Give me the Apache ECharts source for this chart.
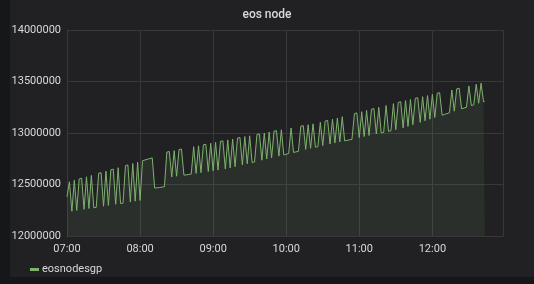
<!DOCTYPE html>
<html>
<head>
<meta charset="utf-8">
<script src="https://cdn.jsdelivr.net/npm/echarts@6/dist/echarts.min.js"></script>
<style>
  html, body { margin: 0; padding: 0; background: #161719; }
  #panel { position: absolute; left: 10px; top: 0; width: 524px; height: 277px; background: #212124; }
  #chart { position: absolute; left: 0; top: 0; width: 534px; height: 284px; }
</style>
</head>
<body>
<div id="panel"></div>
<div id="chart"></div>
<script>
const title = 'eos node';
const seriesName = 'eosnodesgp';
const startTime = [2018, 5, 20, 7, 0];   // 07:00
const stepMinutes = 1;
const axisStart = [2018, 5, 20, 7, 0];
const axisEnd = [2018, 5, 20, 12, 58];
const yTicks = [12000000, 12500000, 13000000, 13500000, 14000000];
const xTickLabels = ['07:00', '08:00', '09:00', '10:00', '11:00', '12:00'];
const values = [
  12380000, 12380000, 12527000, 12527000, 12240000, 12240000, 12541000, 12541000, 12248000, 12248000,
  12554000, 12554000, 12561000, 12561000, 12259000, 12259000, 12575000, 12575000, 12267000, 12267000,
  12588000, 12588000, 12274000, 12274000, 12278000, 12278000, 12609000, 12609000, 12615000, 12615000,
  12289000, 12289000, 12629000, 12629000, 12297000, 12297000, 12643000, 12643000, 12649000, 12649000,
  12308000, 12308000, 12663000, 12663000, 12315000, 12315000, 12319000, 12319000, 12683000, 12683000,
  12690000, 12690000, 12330000, 12330000, 12704000, 12704000, 12338000, 12338000, 12717000, 12717000,
  12345000, 12345000, 12731000, 12731000, 12738000, 12738000, 12745000, 12745000, 12751000, 12751000,
  12758000, 12758000, 12465000, 12465000, 12468000, 12468000, 12471000, 12471000, 12475000, 12475000,
  12478000, 12478000, 12815000, 12815000, 12820000, 12820000, 12573000, 12573000, 12829000, 12829000,
  12580000, 12580000, 12839000, 12839000, 12844000, 12844000, 12591000, 12591000, 12594000, 12594000,
  12598000, 12598000, 12601000, 12601000, 12867000, 12867000, 12608000, 12608000, 12876000, 12876000,
  12615000, 12615000, 12886000, 12886000, 12891000, 12891000, 12626000, 12626000, 12900000, 12900000,
  12633000, 12633000, 12909000, 12909000, 12640000, 12640000, 12919000, 12919000, 12923000, 12923000,
  12650000, 12650000, 12933000, 12933000, 12661000, 12661000, 12942000, 12942000, 12673000, 12673000,
  12951000, 12951000, 12956000, 12956000, 12690000, 12690000, 12965000, 12965000, 12702000, 12702000,
  12973000, 12973000, 12713000, 12713000, 12719000, 12719000, 12987000, 12987000, 12991000, 12991000,
  12736000, 12736000, 13000000, 13000000, 12748000, 12748000, 13009000, 13009000, 12759000, 12759000,
  13018000, 13018000, 13022000, 13022000, 12776000, 12776000, 13031000, 13031000, 12788000, 12788000,
  12794000, 12794000, 12799000, 12799000, 13049000, 13049000, 12811000, 12811000, 12817000, 12817000,
  12822000, 12822000, 13066000, 13066000, 13071000, 13071000, 12840000, 12840000, 13080000, 13080000,
  12851000, 12851000, 13089000, 13089000, 12863000, 12863000, 12867000, 12867000, 13104000, 13104000,
  12878000, 12878000, 13116000, 13116000, 13122000, 13122000, 12893000, 12893000, 13134000, 13134000,
  12903000, 12903000, 13146000, 13146000, 12914000, 12914000, 13158000, 13158000, 12924000, 12924000,
  12929000, 12929000, 12934000, 12934000, 12939000, 12939000, 13188000, 13188000, 13195000, 13195000,
  12955000, 12955000, 13207000, 13207000, 12965000, 12965000, 13219000, 13219000, 12976000, 12976000,
  13231000, 13231000, 13237000, 13237000, 12991000, 12991000, 13249000, 13249000, 13001000, 13001000,
  13006000, 13006000, 13267000, 13267000, 13017000, 13017000, 13022000, 13022000, 13285000, 13285000,
  13032000, 13032000, 13297000, 13297000, 13303000, 13303000, 13049000, 13049000, 13315000, 13315000,
  13064000, 13064000, 13326000, 13326000, 13080000, 13080000, 13337000, 13337000, 13342000, 13342000,
  13103000, 13103000, 13353000, 13353000, 13119000, 13119000, 13364000, 13364000, 13134000, 13134000,
  13375000, 13375000, 13150000, 13150000, 13386000, 13386000, 13391000, 13391000, 13173000, 13173000,
  13181000, 13181000, 13188000, 13188000, 13196000, 13196000, 13418000, 13418000, 13212000, 13212000,
  13429000, 13429000, 13435000, 13435000, 13235000, 13235000, 13243000, 13243000, 13250000, 13250000,
  13457000, 13457000, 13266000, 13266000, 13274000, 13274000, 13473000, 13473000, 13289000, 13289000,
  13484000, 13484000, 13305000, 13305000
];

const t0 = new Date(...startTime).getTime();
const data = values.map((v, i) => [t0 + i * stepMinutes * 60000, v]);

const textColor = '#d8d9da';
const gridColor = '#38383b';
const fontFamily = 'Roboto, "Helvetica Neue", Arial, sans-serif';

const chart = echarts.init(document.getElementById('chart'), null, { renderer: 'canvas' });
chart.setOption({
  animation: false,
  backgroundColor: 'transparent',
  title: {
    text: title,
    left: 'center',
    top: 4,
    textStyle: { color: textColor, fontSize: 12, fontWeight: 500, fontFamily: fontFamily }
  },
  legend: {
    left: 25,
    top: 259,
    icon: 'rect',
    itemWidth: 9,
    itemHeight: 3,
    itemGap: 10,
    textStyle: { color: textColor, fontSize: 11, fontFamily: fontFamily, padding: [0, 0, 0, -2] },
    data: [seriesName]
  },
  grid: { left: 67, right: 31, top: 30, bottom: 48, containLabel: false },
  xAxis: {
    type: 'time',
    min: new Date(...axisStart).getTime(),
    max: new Date(...axisEnd).getTime(),
    interval: 3600000,
    minInterval: 3600000,
    maxInterval: 3600000,
    axisLine: { show: true, lineStyle: { color: gridColor } },
    axisTick: { show: false },
    splitLine: { show: true, lineStyle: { color: gridColor, width: 1 } },
    axisLabel: {
      color: textColor,
      fontSize: 11,
      fontFamily: fontFamily,
      margin: 8,
      hideOverlap: false,
      formatter: function (val) {
        const d = new Date(val);
        const s = String(d.getHours()).padStart(2, '0') + ':' + String(d.getMinutes()).padStart(2, '0');
        return xTickLabels.indexOf(s) >= 0 ? s : '';
      }
    }
  },
  yAxis: {
    type: 'value',
    min: yTicks[0],
    max: yTicks[yTicks.length - 1],
    interval: yTicks[1] - yTicks[0],
    axisLine: { show: true, lineStyle: { color: gridColor } },
    axisTick: { show: false },
    splitLine: { show: true, lineStyle: { color: gridColor, width: 1 } },
    axisLabel: {
      color: textColor, fontSize: 11, fontFamily: fontFamily, margin: 6,
      formatter: function (v) { return String(v); }
    }
  },
  series: [{
    name: seriesName,
    type: 'line',
    data: data,
    showSymbol: false,
    symbol: 'none',
    color: '#7eb26d',
    lineStyle: { width: 1, color: '#7eb26d' },
    areaStyle: { color: '#7eb26d', opacity: 0.1 }
  }]
});
</script>
</body>
</html>
